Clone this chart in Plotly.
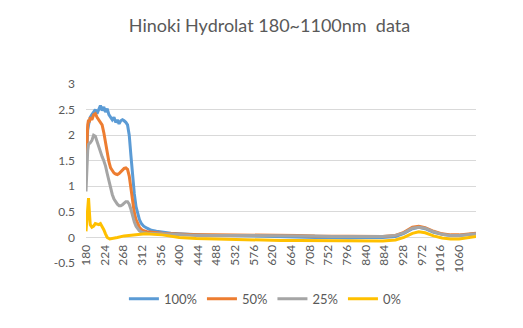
import plotly.graph_objects as go

# wavelengths (nm) for the 100% / 50% / 25% series
wl = [180, 182, 184, 186, 188, 190, 194, 198, 202, 206, 210, 214, 218, 222, 226,
      230, 234, 238, 242, 246, 250, 254, 258, 262, 266, 270, 274, 278, 282, 286,
      290, 294, 298, 302, 306, 310, 316, 324, 334, 346, 360, 380, 400, 440, 480,
      520, 560, 600, 640, 680, 720, 760, 800, 840, 880, 910, 930, 950, 965, 980,
      1000, 1020, 1040, 1060, 1080, 1100]

abs_100 = [1.3, 1.8, 2.1, 2.2, 2.3, 2.35, 2.4, 2.45, 2.5, 2.42, 2.5, 2.58, 2.48, 2.55, 2.45,
           2.52, 2.4, 2.35, 2.3, 2.35, 2.25, 2.3, 2.22, 2.28, 2.3, 2.28, 2.25, 2.2, 2.0, 1.6,
           1.2, 0.85, 0.6, 0.45, 0.35, 0.28, 0.22, 0.18, 0.14, 0.12, 0.1, 0.08, 0.07, 0.05, 0.04,
           0.04, 0.03, 0.02, 0.02, 0.01, 0.0, 0.0, -0.01, 0.0, 0.0, 0.02, 0.08, 0.17, 0.2, 0.17,
           0.1, 0.06, 0.04, 0.04, 0.06, 0.07]

abs_50 = [1.3, 1.9, 2.2, 2.3, 2.25, 2.35, 2.3, 2.4, 2.42, 2.35, 2.3, 2.25, 2.2, 2.05, 1.85,
          1.65, 1.48, 1.36, 1.3, 1.26, 1.24, 1.23, 1.25, 1.28, 1.32, 1.35, 1.36, 1.33, 1.2, 0.95,
          0.7, 0.48, 0.35, 0.26, 0.2, 0.16, 0.13, 0.11, 0.1, 0.09, 0.08, 0.07, 0.06, 0.05, 0.05,
          0.05, 0.05, 0.04, 0.04, 0.04, 0.03, 0.03, 0.02, 0.02, 0.02, 0.04, 0.1, 0.2, 0.22, 0.19,
          0.12, 0.07, 0.05, 0.05, 0.07, 0.08]

abs_25 = [0.9, 1.4, 1.7, 1.82, 1.85, 1.85, 1.9, 2.0, 1.98, 1.88, 1.78, 1.65, 1.58, 1.5, 1.4,
          1.25, 1.1, 0.97, 0.84, 0.75, 0.69, 0.65, 0.62, 0.62, 0.64, 0.67, 0.7, 0.7, 0.65, 0.55,
          0.42, 0.3, 0.22, 0.17, 0.13, 0.11, 0.09, 0.08, 0.07, 0.07, 0.07, 0.06, 0.05, 0.04, 0.04,
          0.04, 0.04, 0.03, 0.03, 0.03, 0.03, 0.02, 0.02, 0.02, 0.02, 0.04, 0.09, 0.18, 0.2, 0.18,
          0.11, 0.06, 0.04, 0.04, 0.06, 0.07]

# 0% series has its own sampling (sharp spike at the start)
wl_0 = [180, 182, 184, 186, 188, 190, 194, 198, 202, 206, 210, 214, 218, 222, 226,
        230, 236, 244, 254, 270, 290, 320, 360, 400, 440, 480, 520, 560, 600, 640,
        680, 720, 760, 800, 840, 880, 910, 930, 950, 965, 980, 1000, 1020, 1040, 1060,
        1080, 1100]
abs_0 = [0.12, 0.4, 0.7, 0.77, 0.5, 0.25, 0.2, 0.22, 0.27, 0.26, 0.25, 0.27, 0.22, 0.15, 0.07,
         0.0, -0.03, -0.02, 0.0, 0.03, 0.05, 0.07, 0.05, 0.0, -0.02, -0.03, -0.04, -0.05, -0.05, -0.06,
         -0.06, -0.06, -0.07, -0.07, -0.07, -0.07, -0.05, 0.0, 0.08, 0.11, 0.09, 0.03, -0.01, -0.03, -0.03,
         -0.01, 0.02]

series = [("100%", wl, abs_100, "#5B9BD5"),
          ("50%", wl, abs_50, "#ED7D31"),
          ("25%", wl, abs_25, "#A5A5A5"),
          ("0%", wl_0, abs_0, "#FFC000")]

x_ticks = list(range(180, 1061, 44))
y_ticks = [-0.5, 0, 0.5, 1, 1.5, 2, 2.5, 3]
y_labels = ["-0.5", "0", "0.5", "1", "1.5", "2", "2.5", "3"]

fig = go.Figure()
for name, xs, ys, col in series:
    fig.add_trace(go.Scatter(x=xs, y=ys, name=name, mode="lines",
                             line=dict(color=col, width=3)))

# page body has an 8px margin, so margins are shifted to compensate
fig.update_layout(
    width=523, height=328,
    margin=dict(l=78, r=55, t=76, b=73, autoexpand=False),
    paper_bgcolor="white", plot_bgcolor="white",
    font=dict(family="Lato", size=11, color="#595959"),
    title=dict(text="Hinoki Hydrolat 180~1100nm  data", x=0.5, xanchor="center",
               y=0.945, yanchor="middle", font=dict(size=18, color="#595959")),
    legend=dict(orientation="h", x=0.46, xanchor="center", y=-0.2, yanchor="middle",
                font=dict(size=13, color="#595959"), itemwidth=30),
    showlegend=True,
)

# x axis crosses at y = 0, like the Excel chart
fig.update_xaxes(range=[180, 1100], tickmode="array", tickvals=x_ticks,
                 tickangle=-90, showgrid=False, zeroline=False, showline=False,
                 anchor="free", position=0.5 / 3.5, ticks="", automargin=False,
                 tickfont=dict(size=12), ticklabelstandoff=4)
fig.update_yaxes(range=[-0.5, 3], tickmode="array", tickvals=y_ticks, ticktext=y_labels,
                 showgrid=True, gridcolor="#D9D9D9", gridwidth=1, zeroline=True,
                 zerolinecolor="#D9D9D9", zerolinewidth=1, showline=False, ticks="",
                 tickfont=dict(size=12), automargin=False, ticklabelstandoff=10)

fig.write_html("out.html")
